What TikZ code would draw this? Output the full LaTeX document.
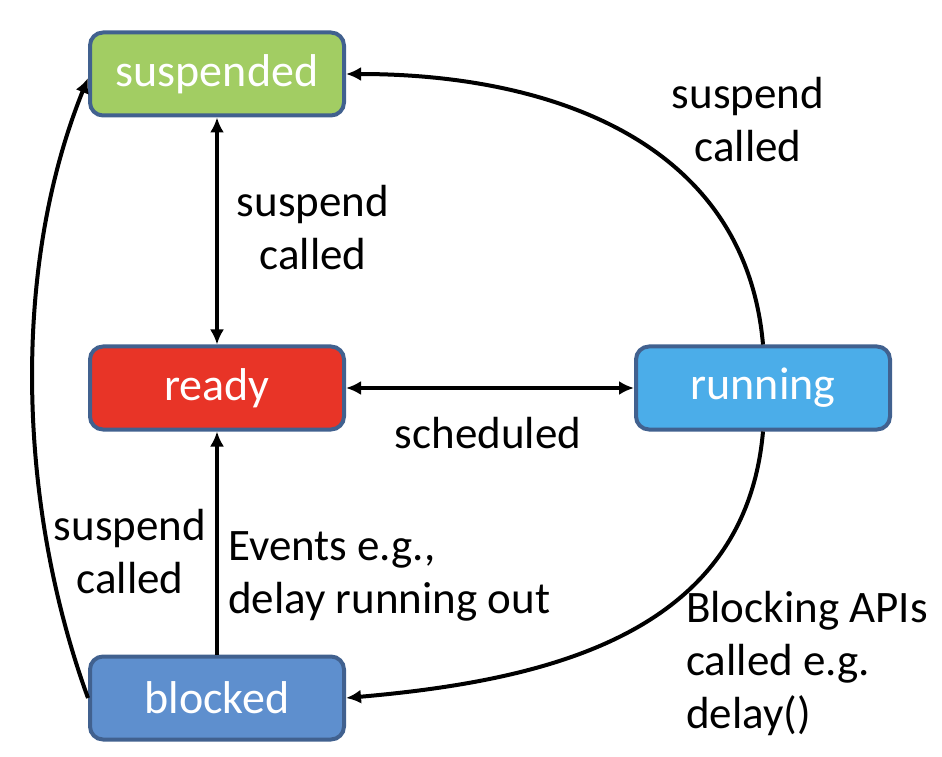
\documentclass[tikz,border=0pt]{standalone}
\usepackage{fontspec}
\setmainfont{Carlito}
\usetikzlibrary{arrows.meta}

\definecolor{boxline}{HTML}{41618F}
\definecolor{suspgreen}{HTML}{A2CD63}
\definecolor{readyred}{HTML}{E83427}
\definecolor{runblue}{HTML}{4BADE9}
\definecolor{blockblue}{HTML}{5E8FCE}

\begin{document}
\begin{tikzpicture}[x=1pt, y=1pt,
  state/.style={draw=boxline, line width=4pt, rounded corners=13pt, minimum width=254pt,
    minimum height=83pt, inner sep=0pt, text=white, font=\fontsize{46}{53}\selectfont},
  lbl/.style={inner sep=0pt, font=\fontsize{45}{53}\selectfont},
  arr/.style={line width=4pt, -{Latex[length=15pt,width=14pt]}},
  biarr/.style={line width=4pt, {Latex[length=15pt,width=14pt]}-{Latex[length=15pt,width=14pt]}}]
\useasboundingbox (0,0) rectangle (942,756);

% states
\node[state, fill=suspgreen] (suspended) at (217,682) {suspended};
\node[state, fill=readyred] (ready) at (217,368) {ready};
\node[state, fill=runblue] (running) at (763,368) {running};
\node[state, fill=blockblue] (blocked) at (217,58) {blocked};

% labels
\node[lbl, align=center] (susprun) at (748,636) {suspend\\called};
\node[lbl, align=center] (suspready) at (313,528) {suspend\\called};
\node[lbl] (sched) at (488,323) {scheduled};
\node[lbl, align=center] (suspblock) at (130,204) {suspend\\called};
\node[lbl, align=left, anchor=west] (events) at (228,180) {Events e.g.,\\delay running out};
\node[lbl, align=left, anchor=west] (blocking) at (686,93) {Blocking APIs\\called e.g.\\delay()};

% transitions
\draw[biarr] (suspended) -- (ready);
\draw[biarr] (ready) -- (running);
\draw[arr] (blocked) -- (ready);
\draw[arr] (running.north) to[out=95, in=0, looseness=1.05] (suspended.east);
\draw[arr] (running.south) to[out=-95, in=5, looseness=1.05] (blocked.east);
\draw[arr] (blocked.west) to[out=110, in=248, looseness=0.85] ([yshift=-4pt]suspended.west);
\end{tikzpicture}
\end{document}
